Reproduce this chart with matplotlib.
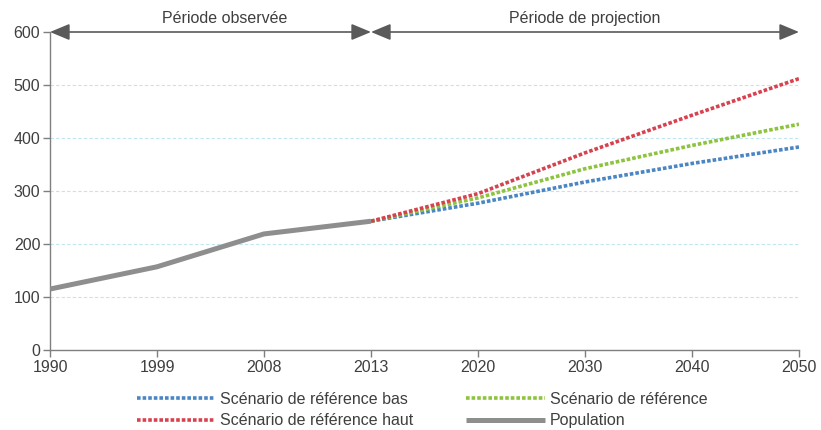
import matplotlib
matplotlib.use("Agg")
import matplotlib.pyplot as plt

plt.rcParams['font.family'] = ['Liberation Sans', 'DejaVu Sans']

years = ['1990', '1999', '2008', '2013', '2020', '2030', '2040', '2050']
population = [115, 157, 219, 243]
proj_years = ['2013', '2020', '2030', '2040', '2050']
scen_bas = [243, 277, 317, 352, 383]
scen_ref = [243, 287, 342, 386, 426]
scen_haut = [243, 295, 372, 443, 512]
labels = ['Scénario de référence bas', 'Scénario de référence haut',
          'Scénario de référence', 'Population']
period_labels = ['Période observée', 'Période de projection']

txt = '#3f3f3f'
axc = '#7f7f7f'
c_blue = '#4a86c4'
c_green = '#8dc33f'
c_red = '#d8414e'
c_gray = '#8e8e8e'

fig = plt.figure(figsize=(8.21, 4.30), dpi=100)
ax = fig.add_axes([50/821, 80/430, 749/821, 318/430])

xi = {y: i for i, y in enumerate(years)}
px = [xi[y] for y in years[:len(population)]]
pj = [xi[y] for y in proj_years]

dot = (0, (1.0, 0.55))
lw = 2.6
l_bas, = ax.plot(pj, scen_bas, color=c_blue, lw=lw, ls=dot, dash_capstyle='butt', label=labels[0])
l_ref, = ax.plot(pj, scen_ref, color=c_green, lw=lw, ls=dot, dash_capstyle='butt', label=labels[2])
l_haut, = ax.plot(pj, scen_haut, color=c_red, lw=lw, ls=dot, dash_capstyle='butt', label=labels[1])
l_pop, = ax.plot(px, population, color=c_gray, lw=3.6, solid_capstyle='butt', label=labels[3], zorder=5)

ax.set_xlim(0, len(years) - 1)
ax.set_ylim(0, 600)
ax.set_xticks(range(len(years)))
ax.set_xticklabels(years)
ax.set_yticks(range(0, 601, 100))
for y in range(100, 600, 100):
    ax.axhline(y, color='#bfe6ee', lw=0.8, ls=(0, (3, 2)), zorder=0)

for s in ['top', 'right']:
    ax.spines[s].set_visible(False)
for s in ['left', 'bottom']:
    ax.spines[s].set_color(axc)
    ax.spines[s].set_linewidth(1.0)
ax.tick_params(axis='both', colors=axc, labelcolor=txt, labelsize=11.5, length=5, width=1.0, pad=2)

# period arrows
ac = '#5a5a5a'
ap = dict(arrowstyle='<|-|>,head_length=1.2,head_width=0.5', color=ac, lw=1.2, shrinkA=0, shrinkB=0)
ax.annotate('', xy=(0, 600), xytext=(xi['2013'], 600), arrowprops=ap, annotation_clip=False)
ax.annotate('', xy=(xi['2013'], 600), xytext=(len(years) - 1, 600), arrowprops=ap, annotation_clip=False)
ax.text(1.63, 612, period_labels[0], ha='center', va='bottom', fontsize=11.5, color=txt)
ax.text(5.0, 612, period_labels[1], ha='center', va='bottom', fontsize=11.5, color=txt)

leg = fig.legend(handles=[l_bas, l_haut, l_ref, l_pop], labels=labels, ncol=2,
                 loc='upper left', bbox_to_anchor=(137/821, 1 - 392/430), frameon=False,
                 fontsize=11.5, handlelength=4.9, handletextpad=0.32, columnspacing=3.3,
                 labelspacing=0.4, borderpad=0, borderaxespad=0)
for t in leg.get_texts():
    t.set_color(txt)

fig.savefig('out.png', dpi=100)
